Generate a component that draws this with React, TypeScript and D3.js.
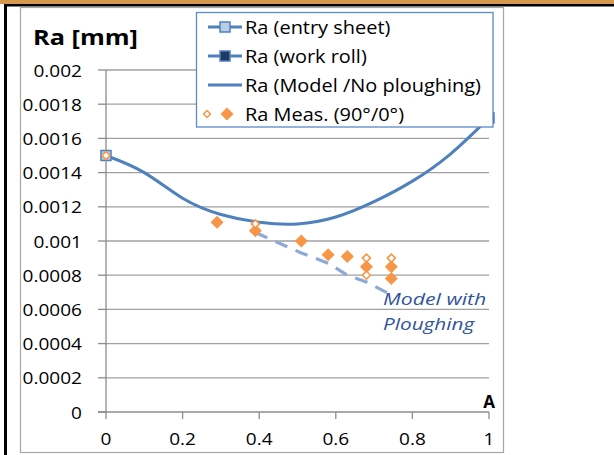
import React from 'react';
import * as d3 from 'd3';

// ---- data ----
const modelX = [0, 0.1, 0.2, 0.3, 0.4, 0.5, 0.6, 0.7, 0.8, 0.9, 1.0];
const modelY = [0.0015, 0.0014, 0.00125, 0.001155, 0.00111, 0.0011, 0.00114, 0.00123, 0.00135, 0.00151, 0.00172];

const ploughX = [0.39, 0.51, 0.58, 0.63, 0.68, 0.74];
const ploughY = [0.00105, 0.00093, 0.00087, 0.0008, 0.00076, 0.00069];

const measFilledX = [0.29, 0.39, 0.51, 0.58, 0.63, 0.68, 0.745, 0.745];
const measFilledY = [0.00111, 0.00106, 0.001, 0.00092, 0.00091, 0.00085, 0.00085, 0.00078];

const measOpenX = [0, 0.39, 0.68, 0.68, 0.745];
const measOpenY = [0.0015, 0.0011, 0.0009, 0.0008, 0.0009];

const entrySheetX = [0];
const entrySheetY = [0.0015];
const workRollX = [1];
const workRollY = [0.00172];

const yTicks = [0, 0.0002, 0.0004, 0.0006, 0.0008, 0.001, 0.0012, 0.0014, 0.0016, 0.0018, 0.002];
const yTickLabels = ['0', '0.0002', '0.0004', '0.0006', '0.0008', '0.001', '0.0012', '0.0014', '0.0016', '0.0018', '0.002'];
const xTicks = [0, 0.2, 0.4, 0.6, 0.8, 1];
const xTickLabels = ['0', '0.2', '0.4', '0.6', '0.8', '1'];

const legendLabels = ['Ra (entry sheet)', 'Ra (work roll)', 'Ra (Model /No ploughing)', 'Ra Meas. (90°/0°)'];

const FONT = '"Open Sans", "Liberation Sans", sans-serif';
const ORANGE = '#F79646';
const BLUE = '#4F81BD';

function diamond(cx: number, cy: number, r: number) {
  return `M${cx},${cy - r}L${cx + r},${cy}L${cx},${cy + r}L${cx - r},${cy}Z`;
}

function SText(props: {
  x: number;
  y: number;
  sx: number;
  anchor?: string;
  size: number;
  weight?: string;
  italic?: boolean;
  fill?: string;
  children: React.ReactNode;
}) {
  const { x, y, sx, anchor = 'start', size, weight, italic, fill = '#000', children } = props;
  return (
    <text
      transform={`translate(${x},${y}) scale(${sx},1)`}
      textAnchor={anchor}
      fontSize={size}
      fontWeight={weight}
      fontStyle={italic ? 'italic' : undefined}
      fill={fill}
    >
      {children}
    </text>
  );
}

export default function App() {
  const x = d3.scaleLinear().domain([0, 1]).range([106, 489]);
  const y = d3.scaleLinear().domain([0, 0.002]).range([412, 70]);

  const modelLine = d3
    .line<number>()
    .x((_, i) => x(modelX[i]))
    .y((d) => y(d))
    .curve(d3.curveNatural)(modelY) as string;

  const ploughLine = d3
    .line<number>()
    .x((_, i) => x(ploughX[i]))
    .y((d) => y(d))(ploughY) as string;

  const legendRows = [27, 56, 85, 114];

  return (
    <svg width={614} height={455} style={{ position: 'absolute', left: 0, top: 0, background: '#fff' }} fontFamily={FONT}>
      {/* outer frame decoration */}
      <rect x={0} y={0} width={614} height={4} fill="#D6984E" />
      <rect x={5} y={4} width={609} height={2.5} fill="#000" />
      <rect x={4} y={4} width={3} height={451} fill="#000" />
      <rect x={20.5} y={7.5} width={483} height={445} fill="#fff" stroke="#A6A6A6" strokeWidth={1.2} />

      {/* gridlines */}
      {yTicks.map((t, i) =>
        i === 0 ? null : (
          <line key={'g' + i} x1={x(0)} x2={x(1)} y1={y(t)} y2={y(t)} stroke="#A0A0A0" strokeWidth={1.3} />
        )
      )}

      {/* axes */}
      <line x1={x(0)} x2={x(0)} y1={y(0.002)} y2={y(0)} stroke="#8C8C8C" strokeWidth={1.3} />
      <line x1={x(0) - 8} x2={x(1)} y1={y(0)} y2={y(0)} stroke="#8C8C8C" strokeWidth={1.3} />
      {yTicks.map((t, i) => (
        <line key={'yt' + i} x1={x(0) - 8} x2={x(0)} y1={y(t)} y2={y(t)} stroke="#8C8C8C" strokeWidth={1.3} />
      ))}
      {xTicks.map((t, i) => (
        <line key={'xt' + i} x1={x(t)} x2={x(t)} y1={y(0)} y2={y(0) + 7} stroke="#8C8C8C" strokeWidth={1.3} />
      ))}

      {/* tick labels */}
      {yTicks.map((t, i) => (
        <SText key={'yl' + i} x={82} y={y(t) + 6.5} sx={1.12} anchor="end" size={17}>
          {yTickLabels[i]}
        </SText>
      ))}
      {xTicks.map((t, i) => (
        <SText key={'xl' + i} x={x(t)} y={445} sx={1.12} anchor="middle" size={17}>
          {xTickLabels[i]}
        </SText>
      ))}

      {/* titles */}
      <SText x={33} y={45} sx={1.15} size={22} weight="bold">
        Ra [mm]
      </SText>
      <text x={x(1)} y={408} textAnchor="middle" fontSize={17} fontWeight="bold" fill="#000">
        A
      </text>

      {/* model curve */}
      <path d={modelLine} fill="none" stroke={BLUE} strokeWidth={3} />
      {/* ploughing dashed */}
      <path d={ploughLine} fill="none" stroke="#8EA9D8" strokeWidth={3.2} strokeDasharray="13,9" />

      {/* entry sheet & work roll markers */}
      {entrySheetX.map((v, i) => (
        <rect key={'es' + i} x={x(v) - 5} y={y(entrySheetY[i]) - 5} width={10} height={10} fill="#B9CDE5" stroke={BLUE} strokeWidth={1.5} />
      ))}
      {workRollX.map((v, i) => (
        <rect key={'wr' + i} x={x(v) - 5} y={y(workRollY[i]) - 5} width={10} height={10} fill="#1F3864" stroke={BLUE} strokeWidth={1.5} />
      ))}

      {/* measured */}
      {measFilledX.map((v, i) => (
        <path key={'mf' + i} d={diamond(x(v), y(measFilledY[i]), 6.5)} fill={ORANGE} />
      ))}
      {measOpenX.map((v, i) => (
        <path key={'mo' + i} d={diamond(x(v), y(measOpenY[i]), 4)} fill="#fff" stroke={ORANGE} strokeWidth={1.6} />
      ))}

      {/* legend */}
      <rect x={196.5} y={12.5} width={296.5} height={114.5} fill="#fff" stroke="#5B8BC9" strokeWidth={1.3} />
      <line x1={208} x2={242} y1={legendRows[0]} y2={legendRows[0]} stroke={BLUE} strokeWidth={3} />
      <rect x={220} y={legendRows[0] - 5} width={10} height={10} fill="#B9CDE5" stroke={BLUE} strokeWidth={1.5} />
      <line x1={208} x2={242} y1={legendRows[1]} y2={legendRows[1]} stroke={BLUE} strokeWidth={3} />
      <rect x={220} y={legendRows[1] - 5} width={10} height={10} fill="#1F3864" stroke={BLUE} strokeWidth={1.5} />
      <line x1={208} x2={242} y1={legendRows[2]} y2={legendRows[2]} stroke={BLUE} strokeWidth={3} />
      <path d={diamond(207, legendRows[3], 3.5)} fill="#fff" stroke={ORANGE} strokeWidth={1.5} />
      <path d={diamond(227, legendRows[3], 6.5)} fill={ORANGE} />
      {legendLabels.map((l, i) => (
        <SText key={'ll' + i} x={245} y={legendRows[i] + 6.5} sx={1.14} size={17.5}>
          {l}
        </SText>
      ))}

      {/* annotation */}
      <SText x={383} y={305} sx={1.25} size={17} italic fill="#2F5597">
        Model with
      </SText>
      <SText x={383} y={330} sx={1.22} size={17} italic fill="#2F5597">
        Ploughing
      </SText>
    </svg>
  );
}
